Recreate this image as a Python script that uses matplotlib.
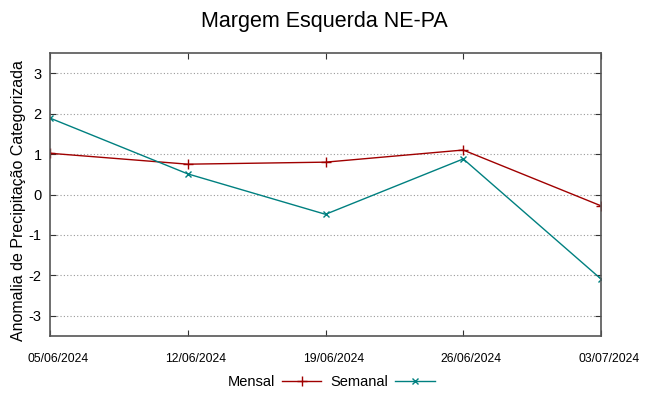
import matplotlib.pyplot as plt
from matplotlib.transforms import ScaledTranslation

plt.rcParams['font.family'] = ['Liberation Sans', 'DejaVu Sans']

datas = ['05/06/2024', '12/06/2024', '19/06/2024', '26/06/2024', '03/07/2024']
mensal = [1.02, 0.75, 0.80, 1.10, -0.28]
semanal = [1.89, 0.51, -0.49, 0.88, -2.09]
yticks = [-3, -2, -1, 0, 1, 2, 3]

fig = plt.figure(figsize=(6.49, 3.96), dpi=100)
ax = fig.add_axes([50 / 649, 60 / 396, 551 / 649, 283 / 396])

x = list(range(len(datas)))
ax.plot(x, mensal, color='#a00000', lw=1, marker='+', ms=7, mew=1, label='Mensal')
ax.plot(x, semanal, color='#008080', lw=1, marker='x', ms=5, mew=1, label='Semanal')

ax.set_xlim(0, len(datas) - 1)
ax.set_ylim(-3.5, 3.5)
ax.set_xticks(x)
ax.set_xticklabels(datas, fontsize=8.7)
ax.set_yticks(yticks)
ax.set_yticklabels([str(v) for v in yticks], fontsize=10.5)
ax.tick_params(direction='in', top=True, right=True, length=4, color='#333333')
ax.tick_params(axis='x', pad=12)
ax.tick_params(axis='y', pad=6)
# rotulos das datas deslocados um pouco para a direita
desloc = ScaledTranslation(8 / 100, 0, fig.dpi_scale_trans)
for lbl in ax.get_xticklabels():
    lbl.set_transform(lbl.get_transform() + desloc)
ax.grid(axis='y', linestyle=(0, (1, 2)), color='#999999', lw=0.8)
for s in ax.spines.values():
    s.set_color('#555555')
    s.set_linewidth(1.2)

ax.set_ylabel('Anomalia de Precipitação Categorizada', fontsize=11.5, labelpad=0)
ax.yaxis.set_label_coords(-0.044, 0.48)
fig.suptitle('Margem Esquerda NE-PA', fontsize=15.5, y=0.972)

fig.legend(loc='lower center', bbox_to_anchor=(0.51, -0.015), ncol=2, frameon=False,
           markerfirst=False, fontsize=10.5, handlelength=2.7, columnspacing=0.6, handletextpad=0.5)

fig.savefig('out.png', dpi=100)
